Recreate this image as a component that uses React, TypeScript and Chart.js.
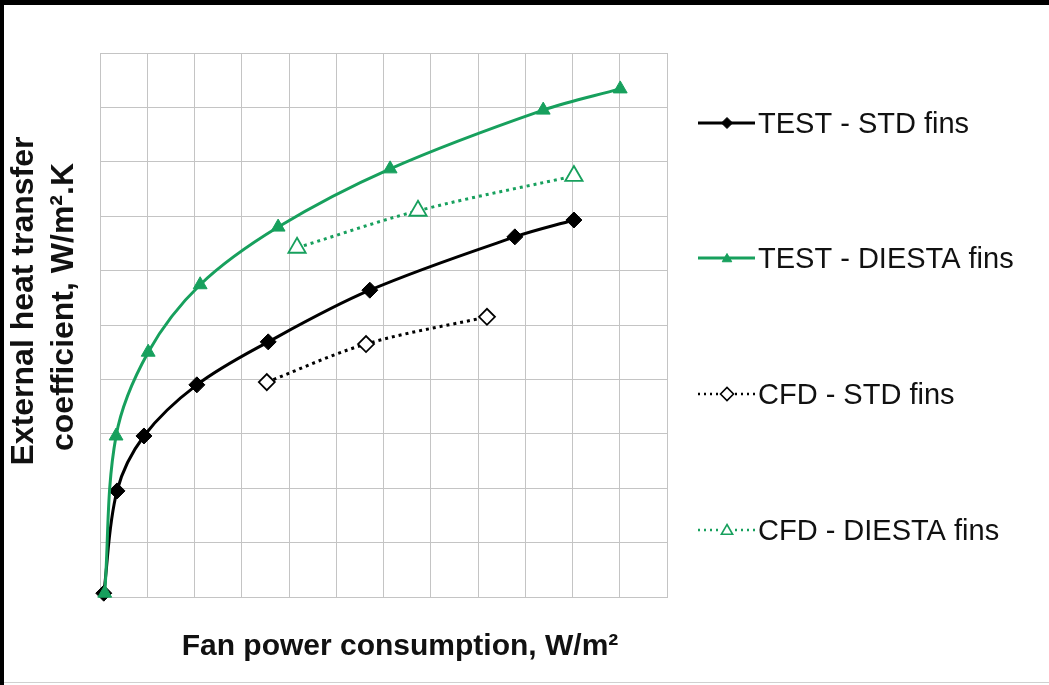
import { useEffect, useRef } from "react";
import { Chart, registerables } from "chart.js";

Chart.register(...registerables);

// ---- data (arbitrary units: x 0..12, y 0..10) ----
const testStdX = [0.08, 0.36, 0.93, 2.05, 3.56, 5.71, 8.78, 10.03];
const testStdY = [0.07, 1.95, 2.96, 3.9, 4.69, 5.64, 6.62, 6.93];

const testDiestaX = [0.1, 0.34, 1.02, 2.12, 3.77, 6.14, 9.38, 11.01];
const testDiestaY = [0.07, 2.96, 4.5, 5.74, 6.8, 7.87, 8.95, 9.34];

const cfdStdX = [3.53, 5.63, 8.19];
const cfdStdY = [3.95, 4.65, 5.15];

const cfdDiestaX = [4.17, 6.73, 10.03];
const cfdDiestaY = [6.42, 7.1, 7.74];

const seriesLabels = [
  "TEST - STD fins",
  "TEST - DIESTA fins",
  "CFD - STD fins",
  "CFD - DIESTA fins",
];

const xAxisTitle = "Fan power consumption, W/m²";
const yAxisTitle = ["External heat transfer", "coefficient, W/m².K"];

const GREEN = "#17a05d";
const GRID = "#c4c4c4";
const FONT = '"Liberation Sans", Arial, sans-serif';

const pts = (xs: number[], ys: number[]) => xs.map((x, i) => ({ x, y: ys[i] }));

type LegendSpec = {
  color: string;
  dash: number[];
  marker: "diamond" | "triangle";
  filled: boolean;
};

const legendSpecs: LegendSpec[] = [
  { color: "#000000", dash: [], marker: "diamond", filled: true },
  { color: GREEN, dash: [], marker: "triangle", filled: true },
  { color: "#000000", dash: [2, 4], marker: "diamond", filled: false },
  { color: GREEN, dash: [2, 4], marker: "triangle", filled: false },
];

function drawMarker(
  ctx: CanvasRenderingContext2D,
  kind: "diamond" | "triangle",
  x: number,
  y: number,
  r: number,
  color: string,
  filled: boolean
) {
  ctx.save();
  ctx.setLineDash([]);
  ctx.beginPath();
  if (kind === "diamond") {
    ctx.moveTo(x - r, y);
    ctx.lineTo(x, y - r);
    ctx.lineTo(x + r, y);
    ctx.lineTo(x, y + r);
  } else {
    ctx.moveTo(x, y - r);
    ctx.lineTo(x + r * 0.866, y + r * 0.5);
    ctx.lineTo(x - r * 0.866, y + r * 0.5);
  }
  ctx.closePath();
  ctx.fillStyle = filled ? color : "#ffffff";
  ctx.fill();
  ctx.lineWidth = filled ? 1 : 1.6;
  ctx.strokeStyle = color;
  ctx.stroke();
  ctx.restore();
}

const decorPlugin = {
  id: "decor",
  afterDraw(chart: any) {
    const ctx: CanvasRenderingContext2D = chart.ctx;
    ctx.save();
    ctx.fillStyle = "#111111";
    // x-axis title
    ctx.font = `bold 30px ${FONT}`;
    ctx.textAlign = "center";
    ctx.textBaseline = "alphabetic";
    ctx.fillText(xAxisTitle, 396, 650);

    // y-axis title (two lines, rotated)
    ctx.font = `bold 32px ${FONT}`;
    ctx.textBaseline = "middle";
    const yCenters = [
      [20, 296],
      [60, 302],
    ];
    yAxisTitle.forEach((line, i) => {
      ctx.save();
      ctx.translate(yCenters[i][0], yCenters[i][1]);
      ctx.rotate(-Math.PI / 2);
      ctx.fillText(line, 0, 0);
      ctx.restore();
    });

    // legend
    const rows = [118, 253, 389, 525];
    seriesLabels.forEach((label, i) => {
      const spec = legendSpecs[i];
      const y = rows[i];
      ctx.save();
      ctx.strokeStyle = spec.color;
      ctx.lineWidth = spec.dash.length ? 2.5 : 3;
      ctx.setLineDash(spec.dash);
      ctx.beginPath();
      if (spec.dash.length) {
        ctx.moveTo(694, y);
        ctx.lineTo(716, y);
        ctx.moveTo(731, y);
        ctx.lineTo(751, y);
      } else {
        ctx.moveTo(694, y);
        ctx.lineTo(751, y);
      }
      ctx.stroke();
      ctx.restore();
      drawMarker(
        ctx,
        spec.marker,
        723,
        y + (spec.marker === "triangle" ? 1 : 0),
        spec.filled ? 5.5 : 6.5,
        spec.color,
        spec.filled
      );
      ctx.fillStyle = "#111111";
      ctx.font = `29px ${FONT}`;
      ctx.textAlign = "left";
      ctx.textBaseline = "alphabetic";
      ctx.fillText(label, 754, y + 10);
    });
    ctx.restore();
  },
};

export default function App() {
  const canvasRef = useRef<HTMLCanvasElement | null>(null);

  useEffect(() => {
    document.body.style.margin = "0";
    const canvas = canvasRef.current;
    if (!canvas) return;
    const chart = new Chart(canvas, {
      type: "line",
      data: {
        datasets: [
          {
            label: seriesLabels[0],
            data: pts(testStdX, testStdY),
            borderColor: "#000000",
            backgroundColor: "#000000",
            borderWidth: 3,
            pointStyle: "rectRot",
            pointRadius: 8,
            pointBorderWidth: 1,
            tension: 0.35,
            clip: false,
            order: 2,
          },
          {
            label: seriesLabels[1],
            data: pts(testDiestaX, testDiestaY),
            borderColor: GREEN,
            backgroundColor: GREEN,
            borderWidth: 3,
            pointStyle: "triangle",
            pointRadius: 8,
            pointBorderWidth: 1,
            tension: 0.35,
            clip: false,
            order: 1,
          },
          {
            label: seriesLabels[2],
            data: pts(cfdStdX, cfdStdY),
            borderColor: "#000000",
            backgroundColor: "#ffffff",
            pointBackgroundColor: "#ffffff",
            borderWidth: 3,
            borderDash: [3, 4],
            pointStyle: "rectRot",
            pointRadius: 8,
            pointBorderWidth: 1.8,
            tension: 0.35,
            clip: false,
            order: 3,
          },
          {
            label: seriesLabels[3],
            data: pts(cfdDiestaX, cfdDiestaY),
            borderColor: GREEN,
            backgroundColor: "#ffffff",
            pointBackgroundColor: "#ffffff",
            borderWidth: 3,
            borderDash: [3, 4],
            pointStyle: "triangle",
            pointRadius: 10,
            pointBorderWidth: 1.8,
            tension: 0.35,
            clip: false,
            order: 4,
          },
        ],
      },
      options: {
        responsive: false,
        animation: false,
        devicePixelRatio: 1,
        layout: { padding: { left: 96, top: 48, right: 382, bottom: 88 } },
        plugins: {
          legend: { display: false },
          tooltip: { enabled: false },
          title: { display: false },
        },
        scales: {
          x: {
            type: "linear",
            min: 0,
            max: 12,
            ticks: { display: false, stepSize: 1 },
            grid: { color: GRID, lineWidth: 1, drawTicks: false },
            border: { color: GRID, width: 1 },
          },
          y: {
            type: "linear",
            min: 0,
            max: 10,
            ticks: { display: false, stepSize: 1 },
            grid: { color: GRID, lineWidth: 1, drawTicks: false },
            border: { color: GRID, width: 1 },
          },
        },
      },
      plugins: [decorPlugin],
    } as any);
    return () => chart.destroy();
  }, []);

  return (
    <div
      style={{
        position: "relative",
        width: 1049,
        height: 685,
        boxSizing: "border-box",
        borderTop: "5px solid #000",
        borderLeft: "4px solid #000",
        background: "#fff",
        overflow: "hidden",
      }}
    >
      <canvas ref={canvasRef} width={1045} height={680} style={{ display: "block" }} />
      <div
        style={{
          position: "absolute",
          left: 0,
          right: 0,
          top: 677,
          height: 1,
          background: "#d0d0d0",
        }}
      />
    </div>
  );
}
